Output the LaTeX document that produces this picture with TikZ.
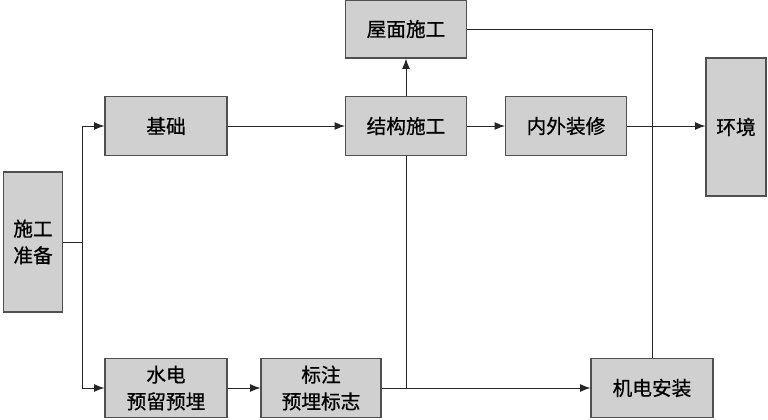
\documentclass[tikz,border=0pt]{standalone}
\usepackage{fontspec}
\setmainfont[FakeBold=0.7]{Noto Sans CJK SC}
\usetikzlibrary{arrows.meta}
\definecolor{boxfill}{HTML}{D0D0D0}
\definecolor{boxline}{HTML}{505050}

\begin{document}
\begin{tikzpicture}[x=0.25mm, y=-0.25mm, every node/.style={font=\fontsize{14}{19}\selectfont},
	box/.style={draw=boxline, line width=0.8pt, fill=boxfill, inner sep=0pt, align=center},
	arr/.style={-{Latex[length=2.6mm, width=2mm]}},
	line/.style={line width=0.7pt, draw=black!85}]
	\useasboundingbox (0,0) rectangle (768,420);
	\node[box, minimum width=59*0.25mm, minimum height=140*0.25mm] (prep) at (33,242) {施工\\准备};
	\node[box, minimum width=122*0.25mm, minimum height=59*0.25mm] (jichu) at (166,126) {基础};
	\node[box, minimum width=121*0.25mm, minimum height=59*0.25mm] (jiegou) at (406,126) {结构施工};
	\node[box, minimum width=121*0.25mm, minimum height=58*0.25mm] (wumian) at (406,29) {屋面施工};
	\node[box, minimum width=121*0.25mm, minimum height=59*0.25mm] (zhuangxiu) at (566,126) {内外装修};
	\node[box, minimum width=60*0.25mm, minimum height=138*0.25mm] (huanjing) at (736,127) {环境};
	\node[box, minimum width=122*0.25mm, minimum height=59*0.25mm] (shuidian) at (166,388) {水电\\预留预埋};
	\node[box, minimum width=120*0.25mm, minimum height=59*0.25mm] (biaozhu) at (321,388) {标注\\预埋标志};
	\node[box, minimum width=122*0.25mm, minimum height=59*0.25mm] (jidian) at (652,388) {机电安装};
	\coordinate (split) at (82,242);
	\draw[line] (prep.east) -- (split);
	\draw[line, arr] (split) |- (jichu.west);
	\draw[line, arr] (split) |- (shuidian.west);
	\draw[line, arr] (jichu) -- (jiegou);
	\draw[line, arr] (jiegou) -- (wumian);
	\draw[line, arr] (jiegou) -- (zhuangxiu);
	\draw[line, arr] (zhuangxiu.east) -- (zhuangxiu.east -| huanjing.west);
	\draw[line] (wumian.east) -| (jidian.north);
	\draw[line] (jiegou.south) -- (jiegou.south |- biaozhu.east);
	\draw[line, arr] (shuidian) -- (biaozhu);
	\draw[line, arr] (biaozhu) -- (jidian);
\end{tikzpicture}
\end{document}
